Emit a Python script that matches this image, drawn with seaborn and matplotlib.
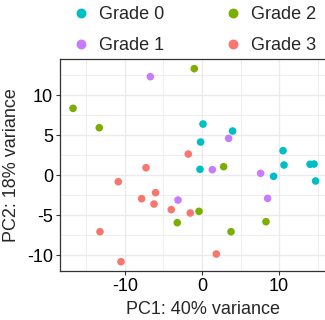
import matplotlib
matplotlib.use("Agg")
import matplotlib.pyplot as plt
import seaborn as sns
import pandas as pd
from matplotlib.ticker import MultipleLocator

grade0_x = [0.13, 3.97, -0.18, 10.52, 10.65, 14.03, 14.55, -0.26, 9.30, 14.75]
grade0_y = [6.41, 5.54, 4.16, 3.08, 1.29, 1.38, 1.41, 0.75, -0.13, -0.71]
grade1_x = [-6.71, 3.46, 1.34, 7.61, 8.52, -3.12]
grade1_y = [12.33, 4.62, 0.70, 0.25, -2.88, -3.09]
grade2_x = [-16.75, -13.34, -1.00, 2.81, -0.39, -3.21, 8.31, 3.77]
grade2_y = [8.37, 5.95, 13.33, 1.08, -4.50, -5.92, -5.80, -7.05]
grade3_x = [-1.78, -7.27, -10.87, -6.03, -7.84, -6.23, -3.99, -1.52, -13.25, -10.52, 1.86]
grade3_y = [2.66, 0.95, -0.80, -2.17, -2.92, -3.59, -4.29, -4.71, -7.05, -10.80, -9.84]

groups = ["Grade 0", "Grade 1", "Grade 2", "Grade 3"]
colors = ["#00BFC4", "#C77CFF", "#7CAE00", "#F8766D"]

rows = []
for g, xs, ys in zip(groups, [grade0_x, grade1_x, grade2_x, grade3_x],
                     [grade0_y, grade1_y, grade2_y, grade3_y]):
    for x, y in zip(xs, ys):
        rows.append({"PC1": x, "PC2": y, "group": g})
df = pd.DataFrame(rows)

sns.set_style("white")
plt.rcParams["font.family"] = ["Liberation Sans", "DejaVu Sans"]
plt.rcParams["axes.unicode_minus"] = False

fig = plt.figure(figsize=(3.25, 3.2), dpi=100)
ax = fig.add_axes([60/325, 49/320, 286/325, 212/320])

ax.xaxis.set_major_locator(MultipleLocator(10))
ax.xaxis.set_minor_locator(MultipleLocator(5))
ax.yaxis.set_major_locator(MultipleLocator(5))
ax.yaxis.set_minor_locator(MultipleLocator(2.5))
ax.grid(True, which="major", color="#EBEBEB", linewidth=1.0)
ax.grid(True, which="minor", color="#EBEBEB", linewidth=0.6)
ax.set_axisbelow(True)

sns.scatterplot(data=df, x="PC1", y="PC2", hue="group", hue_order=groups,
                palette=colors, s=30, linewidth=0, ax=ax)

ax.set_xlim(-18.44, 18.7)
ax.set_ylim(-11.96, 14.54)

for sp in ax.spines.values():
    sp.set_color("#333333")
    sp.set_linewidth(0.9)
    sp.set_visible(True)

ax.tick_params(axis="both", which="major", length=3, width=0.8, color="#333333",
               labelsize=13, labelcolor="black", pad=2, left=True, bottom=True)
ax.tick_params(axis="both", which="minor", length=0)

ax.set_xlabel("PC1: 40% variance", fontsize=13, labelpad=4)
ax.set_ylabel("PC2: 18% variance", fontsize=13, labelpad=5)

sns.move_legend(ax, "lower center", bbox_to_anchor=(0.47, 0.99), ncol=2, title=None,
                frameon=False, fontsize=13, markerscale=1.3, handlelength=1.0,
                handletextpad=0.5, columnspacing=3.3, labelspacing=0.75,
                borderaxespad=0.0)

fig.savefig("out.png", dpi=100)
